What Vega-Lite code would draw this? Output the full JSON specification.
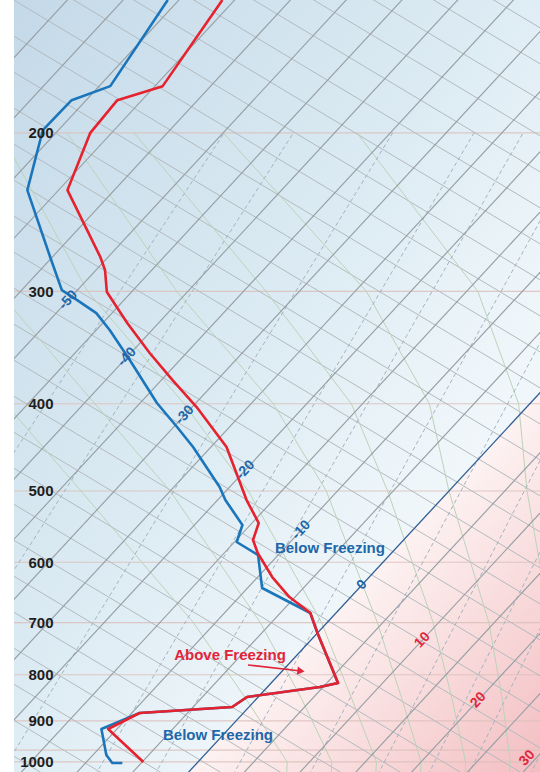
{
  "$schema": "https://vega.github.io/schema/vega-lite/v6.json",
  "width": 526,
  "height": 772,
  "autosize": {"type": "none"},
  "padding": {"left": 14, "top": 0, "right": 0, "bottom": 0},
  "background": "#ffffff",
  "view": {
    "stroke": null,
    "fill": {
      "gradient": "linear", "x1": 0, "y1": 0, "x2": 1, "y2": 1,
      "stops": [
        {"offset": 0, "color": "#c4d9e8"},
        {"offset": 0.45, "color": "#dcebf3"},
        {"offset": 0.7, "color": "#eff6fa"},
        {"offset": 1, "color": "#f7fbfc"}
      ]
    }
  },
  "config": {"font": "Liberation Sans"},
  "encoding": {
    "y": {
      "field": "p", "type": "quantitative",
      "scale": {"type": "log", "domain": [142.4, 1026], "reverse": true, "nice": false},
      "axis": {
        "values": [200, 300, 400, 500, 600, 700, 800, 900, 1000],
        "format": "d", "title": null, "domain": false, "ticks": false, "tickSize": 0, "grid": false,
        "labelPadding": -39, "labelFont": "Liberation Sans", "labelFontWeight": "bold",
        "labelFontSize": 15, "labelColor": "#1e1e1e", "labelBaseline": "middle", "labelAlign": "right",
        "labelOverlap": false, "zindex": 1
      }
    }
  },
  "datasets": {
    "warm": [{"T": 0, "p": 385}, {"T": 0, "p": 1030}],
    "isobars": [{"p": 200}, {"p": 300}, {"p": 400}, {"p": 500}, {"p": 600}, {"p": 700}, {"p": 800}, {"p": 900}, {"p": 970}, {"p": 1000}],
    "lines": [
      {"kind": "iso", "T": -85, "p": 135, "T2": -85, "p2": 1100},
      {"kind": "iso", "T": -80, "p": 135, "T2": -80, "p2": 1100},
      {"kind": "iso", "T": -75, "p": 135, "T2": -75, "p2": 1100},
      {"kind": "iso", "T": -70, "p": 135, "T2": -70, "p2": 1100},
      {"kind": "iso", "T": -65, "p": 135, "T2": -65, "p2": 1100},
      {"kind": "iso", "T": -60, "p": 135, "T2": -60, "p2": 1100},
      {"kind": "iso", "T": -55, "p": 135, "T2": -55, "p2": 1100},
      {"kind": "iso", "T": -50, "p": 135, "T2": -50, "p2": 1100},
      {"kind": "iso", "T": -45, "p": 135, "T2": -45, "p2": 1100},
      {"kind": "iso", "T": -40, "p": 135, "T2": -40, "p2": 1100},
      {"kind": "iso", "T": -35, "p": 135, "T2": -35, "p2": 1100},
      {"kind": "iso", "T": -30, "p": 135, "T2": -30, "p2": 1100},
      {"kind": "iso", "T": -25, "p": 135, "T2": -25, "p2": 1100},
      {"kind": "iso", "T": -20, "p": 135, "T2": -20, "p2": 1100},
      {"kind": "iso", "T": -15, "p": 135, "T2": -15, "p2": 1100},
      {"kind": "iso", "T": -10, "p": 135, "T2": -10, "p2": 1100},
      {"kind": "iso", "T": -5, "p": 135, "T2": -5, "p2": 1100},
      {"kind": "zero", "T": 0, "p": 135, "T2": 0, "p2": 1100},
      {"kind": "iso", "T": 5, "p": 135, "T2": 5, "p2": 1100},
      {"kind": "iso", "T": 10, "p": 135, "T2": 10, "p2": 1100},
      {"kind": "iso", "T": 15, "p": 135, "T2": 15, "p2": 1100},
      {"kind": "iso", "T": 20, "p": 135, "T2": 20, "p2": 1100},
      {"kind": "iso", "T": 25, "p": 135, "T2": 25, "p2": 1100},
      {"kind": "iso", "T": 30, "p": 135, "T2": 30, "p2": 1100},
      {"kind": "iso", "T": 35, "p": 135, "T2": 35, "p2": 1100},
      {"kind": "dry", "T": -41.42, "p": 135.3, "T2": 149.22, "p2": 1102.1},
      {"kind": "dry", "T": -46.80, "p": 135.3, "T2": 143.84, "p2": 1102.1},
      {"kind": "dry", "T": -52.18, "p": 135.3, "T2": 138.46, "p2": 1102.1},
      {"kind": "dry", "T": -57.56, "p": 135.3, "T2": 133.08, "p2": 1102.1},
      {"kind": "dry", "T": -62.94, "p": 135.3, "T2": 127.70, "p2": 1102.1},
      {"kind": "dry", "T": -68.32, "p": 135.3, "T2": 122.32, "p2": 1102.1},
      {"kind": "dry", "T": -73.70, "p": 135.3, "T2": 116.94, "p2": 1102.1},
      {"kind": "dry", "T": -79.08, "p": 135.3, "T2": 111.56, "p2": 1102.1},
      {"kind": "dry", "T": -84.46, "p": 135.3, "T2": 106.18, "p2": 1102.1},
      {"kind": "dry", "T": -89.85, "p": 135.3, "T2": 100.79, "p2": 1102.1},
      {"kind": "dry", "T": -95.23, "p": 135.3, "T2": 95.41, "p2": 1102.1},
      {"kind": "dry", "T": -100.61, "p": 135.3, "T2": 90.03, "p2": 1102.1},
      {"kind": "dry", "T": -105.99, "p": 135.3, "T2": 84.65, "p2": 1102.1},
      {"kind": "dry", "T": -111.37, "p": 135.3, "T2": 79.27, "p2": 1102.1},
      {"kind": "dry", "T": -116.75, "p": 135.3, "T2": 73.89, "p2": 1102.1},
      {"kind": "dry", "T": -122.13, "p": 135.3, "T2": 68.51, "p2": 1102.1},
      {"kind": "dry", "T": -127.51, "p": 135.3, "T2": 63.13, "p2": 1102.1},
      {"kind": "dry", "T": -132.89, "p": 135.3, "T2": 57.75, "p2": 1102.1},
      {"kind": "dry", "T": -138.27, "p": 135.3, "T2": 52.37, "p2": 1102.1},
      {"kind": "dry", "T": -143.66, "p": 135.3, "T2": 46.98, "p2": 1102.1},
      {"kind": "dry", "T": -149.04, "p": 135.3, "T2": 41.60, "p2": 1102.1},
      {"kind": "dry", "T": -154.42, "p": 135.3, "T2": 36.22, "p2": 1102.1},
      {"kind": "dry", "T": -159.80, "p": 135.3, "T2": 30.84, "p2": 1102.1},
      {"kind": "dry", "T": -165.18, "p": 135.3, "T2": 25.46, "p2": 1102.1},
      {"kind": "dry", "T": -170.56, "p": 135.3, "T2": 20.08, "p2": 1102.1},
      {"kind": "dry", "T": -175.94, "p": 135.3, "T2": 14.70, "p2": 1102.1},
      {"kind": "dry", "T": -181.32, "p": 135.3, "T2": 9.32, "p2": 1102.1},
      {"kind": "dry", "T": -186.70, "p": 135.3, "T2": 3.94, "p2": 1102.1},
      {"kind": "dry", "T": -192.08, "p": 135.3, "T2": -1.44, "p2": 1102.1},
      {"kind": "dry", "T": -197.46, "p": 135.3, "T2": -6.82, "p2": 1102.1},
      {"kind": "mix", "T": -34.3, "p": 1050, "T2": -49.9, "p2": 200},
      {"kind": "mix", "T": -27.0, "p": 1050, "T2": -43.7, "p2": 200},
      {"kind": "mix", "T": -16.5, "p": 1050, "T2": -34.8, "p2": 200},
      {"kind": "mix", "T": -7.95, "p": 1050, "T2": -27.5, "p2": 200},
      {"kind": "mix", "T": -2.63, "p": 1050, "T2": -23.1, "p2": 200},
      {"kind": "mix", "T": 4.42, "p": 1050, "T2": -17.2, "p2": 200},
      {"kind": "mix", "T": 11.25, "p": 1050, "T2": -11.5, "p2": 200},
      {"kind": "mix", "T": 17.41, "p": 1050, "T2": -6.4, "p2": 200},
      {"kind": "mix", "T": 21.94, "p": 1050, "T2": -2.71, "p2": 200},
      {"kind": "mix", "T": 25.54, "p": 1050, "T2": 0.27, "p2": 200},
      {"kind": "mix", "T": 31.11, "p": 1050, "T2": 4.83, "p2": 200}
    ],
    "moist": [
      {"w": 8, "T": 9.5, "p": 1050}, {"w": 8, "T": 8, "p": 1000}, {"w": 8, "T": -1, "p": 850}, {"w": 8, "T": -12, "p": 700}, {"w": 8, "T": -33, "p": 500}, {"w": 8, "T": -47, "p": 400}, {"w": 8, "T": -65, "p": 300}, {"w": 8, "T": -84, "p": 200},
      {"w": 12, "T": 13.5, "p": 1050}, {"w": 12, "T": 12, "p": 1000}, {"w": 12, "T": 4, "p": 850}, {"w": 12, "T": -6, "p": 700}, {"w": 12, "T": -25, "p": 500}, {"w": 12, "T": -39, "p": 400}, {"w": 12, "T": -57, "p": 300}, {"w": 12, "T": -77, "p": 200},
      {"w": 16, "T": 17.5, "p": 1050}, {"w": 16, "T": 16, "p": 1000}, {"w": 16, "T": 8.5, "p": 850}, {"w": 16, "T": -0.5, "p": 700}, {"w": 16, "T": -18, "p": 500}, {"w": 16, "T": -31, "p": 400}, {"w": 16, "T": -49, "p": 300}, {"w": 16, "T": -70, "p": 200},
      {"w": 20, "T": 21.5, "p": 1050}, {"w": 20, "T": 20, "p": 1000}, {"w": 20, "T": 13, "p": 850}, {"w": 20, "T": 4.5, "p": 700}, {"w": 20, "T": -11, "p": 500}, {"w": 20, "T": -23, "p": 400}, {"w": 20, "T": -41, "p": 300}, {"w": 20, "T": -64, "p": 200},
      {"w": 24, "T": 25.5, "p": 1050}, {"w": 24, "T": 24, "p": 1000}, {"w": 24, "T": 17.5, "p": 850}, {"w": 24, "T": 9.5, "p": 700}, {"w": 24, "T": -5.5, "p": 500}, {"w": 24, "T": -16, "p": 400}, {"w": 24, "T": -33, "p": 300}, {"w": 24, "T": -58, "p": 200},
      {"w": 28, "T": 29.5, "p": 1050}, {"w": 28, "T": 28, "p": 1000}, {"w": 28, "T": 22, "p": 850}, {"w": 28, "T": 14.5, "p": 700}, {"w": 28, "T": 0, "p": 500}, {"w": 28, "T": -9, "p": 400}, {"w": 28, "T": -24, "p": 300}, {"w": 28, "T": -50, "p": 200},
      {"w": 32, "T": 33.5, "p": 1050}, {"w": 32, "T": 32, "p": 1000}, {"w": 32, "T": 26.5, "p": 850}, {"w": 32, "T": 20, "p": 700}, {"w": 32, "T": 7, "p": 500}, {"w": 32, "T": -1, "p": 400}, {"w": 32, "T": -14, "p": 300}, {"w": 32, "T": -38, "p": 200}
    ],
    "profile": [
      {"series": "T", "i": 1, "T": -61.1, "p": 142.4},
      {"series": "T", "i": 2, "T": -59.3, "p": 177.5},
      {"series": "T", "i": 3, "T": -62.2, "p": 184.0},
      {"series": "T", "i": 4, "T": -61.9, "p": 200.2},
      {"series": "T", "i": 5, "T": -59.2, "p": 231.6},
      {"series": "T", "i": 6, "T": -50.7, "p": 274.8},
      {"series": "T", "i": 7, "T": -49.2, "p": 284.1},
      {"series": "T", "i": 8, "T": -47.2, "p": 300.6},
      {"series": "T", "i": 9, "T": -42.8, "p": 325.4},
      {"series": "T", "i": 10, "T": -38.3, "p": 351.3},
      {"series": "T", "i": 11, "T": -34.0, "p": 376.5},
      {"series": "T", "i": 12, "T": -29.6, "p": 403.4},
      {"series": "T", "i": 13, "T": -23.6, "p": 446.8},
      {"series": "T", "i": 14, "T": -17.4, "p": 511.7},
      {"series": "T", "i": 15, "T": -14.4, "p": 542.7},
      {"series": "T", "i": 16, "T": -13.5, "p": 566.8},
      {"series": "T", "i": 17, "T": -12.0, "p": 586.0},
      {"series": "T", "i": 18, "T": -8.7, "p": 623.1},
      {"series": "T", "i": 19, "T": -5.5, "p": 655.8},
      {"series": "T", "i": 20, "T": -2.3, "p": 683.1},
      {"series": "T", "i": 21, "T": 0.0, "p": 719.0},
      {"series": "T", "i": 22, "T": 6.0, "p": 817.1},
      {"series": "T", "i": 23, "T": 4.7, "p": 825.5},
      {"series": "T", "i": 24, "T": -1.0, "p": 846.8},
      {"series": "T", "i": 25, "T": -1.5, "p": 868.8},
      {"series": "T", "i": 26, "T": -9.3, "p": 882.2},
      {"series": "T", "i": 27, "T": -10.8, "p": 919.1},
      {"series": "T", "i": 28, "T": -4.9, "p": 1000},
      {"series": "Td", "i": 1, "T": -66.0, "p": 142.4},
      {"series": "Td", "i": 2, "T": -64.0, "p": 177.5},
      {"series": "Td", "i": 3, "T": -66.3, "p": 184.0},
      {"series": "Td", "i": 4, "T": -66.4, "p": 198.6},
      {"series": "Td", "i": 5, "T": -62.8, "p": 231.6},
      {"series": "Td", "i": 6, "T": -55.2, "p": 274.8},
      {"series": "Td", "i": 7, "T": -51.4, "p": 299.1},
      {"series": "Td", "i": 8, "T": -49.2, "p": 306.8},
      {"series": "Td", "i": 9, "T": -46.4, "p": 317.2},
      {"series": "Td", "i": 10, "T": -43.8, "p": 331.2},
      {"series": "Td", "i": 11, "T": -39.5, "p": 357.7},
      {"series": "Td", "i": 12, "T": -33.5, "p": 399.2},
      {"series": "Td", "i": 13, "T": -29.7, "p": 424.5},
      {"series": "Td", "i": 14, "T": -26.6, "p": 446.8},
      {"series": "Td", "i": 15, "T": -20.9, "p": 494.9},
      {"series": "Td", "i": 16, "T": -19.3, "p": 511.7},
      {"series": "Td", "i": 17, "T": -15.7, "p": 545.4},
      {"series": "Td", "i": 18, "T": -14.8, "p": 569.7},
      {"series": "Td", "i": 19, "T": -11.8, "p": 589.0},
      {"series": "Td", "i": 20, "T": -8.7, "p": 640.8},
      {"series": "Td", "i": 21, "T": -2.3, "p": 683.1},
      {"series": "Td", "i": 22, "T": 0.0, "p": 719.0},
      {"series": "Td", "i": 23, "T": 6.0, "p": 817.1},
      {"series": "Td", "i": 24, "T": 4.7, "p": 825.5},
      {"series": "Td", "i": 25, "T": -1.0, "p": 846.8},
      {"series": "Td", "i": 26, "T": -1.5, "p": 868.8},
      {"series": "Td", "i": 27, "T": -9.3, "p": 882.2},
      {"series": "Td", "i": 28, "T": -11.4, "p": 919.1},
      {"series": "Td", "i": 29, "T": -10.3, "p": 945.3},
      {"series": "Td", "i": 30, "T": -8.8, "p": 982.3},
      {"series": "Td", "i": 31, "T": -7.6, "p": 1002.6},
      {"series": "Td", "i": 32, "T": -6.7, "p": 1002.6}
    ],
    "isolabels": [
      {"label": "-50", "T": -50, "p": 306.8},
      {"label": "-40", "T": -40, "p": 354.9},
      {"label": "-30", "T": -30, "p": 411.7},
      {"label": "-20", "T": -20, "p": 473.9},
      {"label": "-10", "T": -10, "p": 552.5},
      {"label": "0", "T": 0, "p": 636.0},
      {"label": "10", "T": 10, "p": 732.0},
      {"label": "20", "T": 20, "p": 853.4},
      {"label": "30", "T": 29.2, "p": 990}
    ],
    "notes": [
      {"label": "Below Freezing", "phase": "below", "T": -5.94, "p": 578.5},
      {"label": "Above Freezing", "phase": "above", "T": -6.02, "p": 760.5},
      {"label": "Below Freezing", "phase": "below", "T": -0.45, "p": 933.3}
    ],
    "arrow": [
      {"part": "tail", "T": -3.57, "p": 780.3},
      {"part": "head", "T": 1.68, "p": 792.4}
    ]
  },
  "layer": [
    {
      "data": {"name": "warm"},
      "transform": [{"calculate": "datum.T + 32.47*log(1000/datum.p)", "as": "xs"}],
      "mark": {
        "type": "area", "orient": "horizontal", "clip": true, "stroke": null,
        "fill": {
          "gradient": "linear", "x1": 0, "y1": 0, "x2": 1, "y2": 1,
          "stops": [
            {"offset": 0, "color": "#ffffff"},
            {"offset": 0.5, "color": "#fdf2f2"},
            {"offset": 0.75, "color": "#f8d8d9"},
            {"offset": 1, "color": "#f3bdc1"}
          ]
        }
      },
      "encoding": {
        "x": {"field": "xs", "type": "quantitative", "scale": {"domain": [-16.5, 30.67], "nice": false, "zero": false}, "axis": null},
        "x2": {"datum": 30.67}
      }
    },
    {
      "data": {"name": "isobars"},
      "mark": {"type": "rule", "stroke": "#dcbfbb", "strokeWidth": 1.2, "opacity": 0.85}
    },
    {
      "data": {"name": "lines"},
      "transform": [
        {"filter": "datum.kind == 'dry'"},
        {"calculate": "datum.T + 32.47*log(1000/datum.p)", "as": "xs"},
        {"calculate": "datum.T2 + 32.47*log(1000/datum.p2)", "as": "xs2"}
      ],
      "mark": {"type": "rule", "clip": true, "stroke": "#b3babe", "strokeWidth": 1},
      "encoding": {
        "x": {"field": "xs", "type": "quantitative", "scale": {"domain": [-16.5, 30.67], "nice": false, "zero": false}, "axis": null},
        "x2": {"field": "xs2"},
        "y2": {"field": "p2"}
      }
    },
    {
      "data": {"name": "moist"},
      "transform": [{"calculate": "datum.T + 32.47*log(1000/datum.p)", "as": "xs"}],
      "mark": {"type": "line", "clip": true, "stroke": "#bcd3b9", "strokeWidth": 1},
      "encoding": {
        "x": {"field": "xs", "type": "quantitative", "scale": {"domain": [-16.5, 30.67], "nice": false, "zero": false}, "axis": null},
        "detail": {"field": "w", "type": "nominal"},
        "order": {"field": "p", "type": "quantitative"}
      }
    },
    {
      "data": {"name": "lines"},
      "transform": [
        {"filter": "datum.kind == 'mix'"},
        {"calculate": "datum.T + 32.47*log(1000/datum.p)", "as": "xs"},
        {"calculate": "datum.T2 + 32.47*log(1000/datum.p2)", "as": "xs2"}
      ],
      "mark": {"type": "rule", "clip": true, "stroke": "#a3b3bf", "strokeWidth": 1, "strokeDash": [4, 3]},
      "encoding": {
        "x": {"field": "xs", "type": "quantitative", "scale": {"domain": [-16.5, 30.67], "nice": false, "zero": false}, "axis": null},
        "x2": {"field": "xs2"},
        "y2": {"field": "p2"}
      }
    },
    {
      "data": {"name": "lines"},
      "transform": [
        {"filter": "datum.kind == 'iso'"},
        {"calculate": "datum.T + 32.47*log(1000/datum.p)", "as": "xs"},
        {"calculate": "datum.T2 + 32.47*log(1000/datum.p2)", "as": "xs2"}
      ],
      "mark": {"type": "rule", "clip": true, "stroke": "#979fa5", "strokeWidth": 1.15},
      "encoding": {
        "x": {"field": "xs", "type": "quantitative", "scale": {"domain": [-16.5, 30.67], "nice": false, "zero": false}, "axis": null},
        "x2": {"field": "xs2"},
        "y2": {"field": "p2"}
      }
    },
    {
      "data": {"name": "lines"},
      "transform": [
        {"filter": "datum.kind == 'zero'"},
        {"calculate": "datum.T + 32.47*log(1000/datum.p)", "as": "xs"},
        {"calculate": "datum.T2 + 32.47*log(1000/datum.p2)", "as": "xs2"}
      ],
      "mark": {"type": "rule", "clip": true, "stroke": "#2f5f94", "strokeWidth": 1.3},
      "encoding": {
        "x": {"field": "xs", "type": "quantitative", "scale": {"domain": [-16.5, 30.67], "nice": false, "zero": false}, "axis": null},
        "x2": {"field": "xs2"},
        "y2": {"field": "p2"}
      }
    },
    {
      "data": {"name": "profile"},
      "transform": [{"filter": "datum.series == 'Td'"}, {"calculate": "datum.T + 32.47*log(1000/datum.p)", "as": "xs"}],
      "mark": {"type": "line", "clip": true, "stroke": "#1b75bb", "strokeWidth": 2.6, "strokeJoin": "round"},
      "encoding": {
        "x": {"field": "xs", "type": "quantitative", "scale": {"domain": [-16.5, 30.67], "nice": false, "zero": false}, "axis": null},
        "order": {"field": "i", "type": "quantitative"}
      }
    },
    {
      "data": {"name": "profile"},
      "transform": [{"filter": "datum.series == 'T'"}, {"calculate": "datum.T + 32.47*log(1000/datum.p)", "as": "xs"}],
      "mark": {"type": "line", "clip": true, "stroke": "#e5222e", "strokeWidth": 2.6, "strokeJoin": "round"},
      "encoding": {
        "x": {"field": "xs", "type": "quantitative", "scale": {"domain": [-16.5, 30.67], "nice": false, "zero": false}, "axis": null},
        "order": {"field": "i", "type": "quantitative"}
      }
    },
    {
      "data": {"name": "isolabels"},
      "transform": [{"calculate": "datum.T + 32.47*log(1000/datum.p)", "as": "xs"}],
      "mark": {"type": "text", "angle": -47, "align": "center", "baseline": "middle", "font": "Liberation Sans", "fontWeight": "bold", "fontSize": 14},
      "encoding": {
        "x": {"field": "xs", "type": "quantitative", "scale": {"domain": [-16.5, 30.67], "nice": false, "zero": false}, "axis": null},
        "text": {"field": "label"},
        "color": {"condition": {"test": "datum.T > 0", "value": "#e2253a"}, "value": "#1d67aa"}
      }
    },
    {
      "data": {"name": "notes"},
      "transform": [{"calculate": "datum.T + 32.47*log(1000/datum.p)", "as": "xs"}],
      "mark": {"type": "text", "align": "center", "baseline": "middle", "font": "Liberation Sans", "fontWeight": "bold", "fontSize": 15},
      "encoding": {
        "x": {"field": "xs", "type": "quantitative", "scale": {"domain": [-16.5, 30.67], "nice": false, "zero": false}, "axis": null},
        "text": {"field": "label"},
        "color": {"condition": {"test": "datum.phase == 'above'", "value": "#e2253a"}, "value": "#1d67aa"}
      }
    },
    {
      "data": {"name": "arrow"},
      "transform": [{"calculate": "datum.T + 32.47*log(1000/datum.p)", "as": "xs"}],
      "mark": {"type": "line", "stroke": "#e2253a", "strokeWidth": 1.6},
      "encoding": {
        "x": {"field": "xs", "type": "quantitative", "scale": {"domain": [-16.5, 30.67], "nice": false, "zero": false}, "axis": null}
      }
    },
    {
      "data": {"name": "arrow"},
      "transform": [{"filter": "datum.part == 'head'"}, {"calculate": "datum.T + 32.47*log(1000/datum.p)", "as": "xs"}],
      "mark": {"type": "point", "shape": "triangle-right", "filled": true, "fill": "#e2253a", "stroke": null, "size": 70, "angle": 7, "opacity": 1},
      "encoding": {
        "x": {"field": "xs", "type": "quantitative", "scale": {"domain": [-16.5, 30.67], "nice": false, "zero": false}, "axis": null}
      }
    }
  ]
}
